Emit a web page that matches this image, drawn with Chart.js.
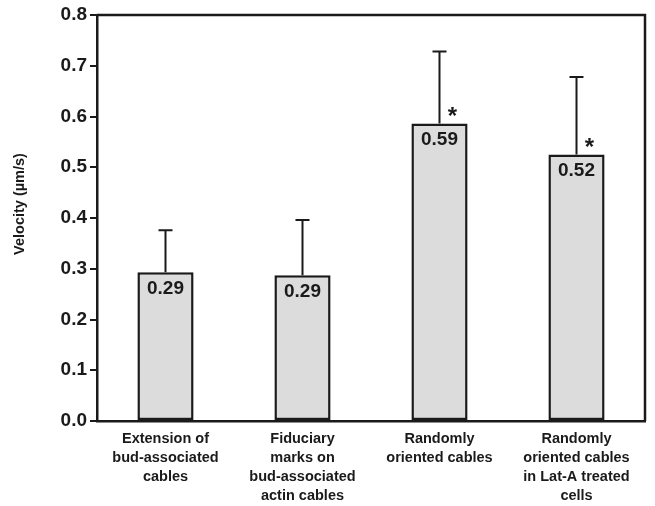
<!DOCTYPE html>
<html>
<head>
<meta charset="utf-8">
<script src="https://cdn.jsdelivr.net/npm/chart.js@4/dist/chart.umd.min.js"></script>
<style>
  html, body { margin: 0; padding: 0; background: #fff; }
  #wrap { width: 655px; height: 506px; }
</style>
</head>
<body>
<div id="wrap"><canvas id="chart" width="655" height="506"></canvas></div>
<script>
const categories = [
  ["Extension of", "bud-associated", "cables"],
  ["Fiduciary", "marks on", "bud-associated", "actin cables"],
  ["Randomly", "oriented cables"],
  ["Randomly", "oriented cables", "in Lat-A treated", "cells"],
];
const velocities = [0.293, 0.287, 0.586, 0.525];
const errors = [0.083, 0.109, 0.142, 0.153];
const valueLabels = ["0.29", "0.29", "0.59", "0.52"];
const significant = [false, false, true, true];
const yTicks = [0, 0.1, 0.2, 0.3, 0.4, 0.5, 0.6, 0.7, 0.8];
const yTitle = "Velocity (\u00b5m/s)";

const ink = "#1a1a1a";
const fontFamily = "'Liberation Sans', Arial, sans-serif";

const barExtras = {
  id: "barExtras",
  afterDatasetsDraw(chart) {
    const ctx = chart.ctx;
    const yScale = chart.scales.y;
    const meta = chart.getDatasetMeta(0);

    meta.data.forEach((bar, i) => {
      const top = yScale.getPixelForValue(velocities[i] + errors[i]);
      ctx.save();
      ctx.strokeStyle = ink;
      ctx.lineWidth = 2;
      ctx.beginPath();
      ctx.moveTo(bar.x, bar.y);
      ctx.lineTo(bar.x, top);
      ctx.moveTo(bar.x - 7, top);
      ctx.lineTo(bar.x + 7, top);
      ctx.stroke();

      ctx.fillStyle = ink;
      ctx.font = `bold 19px ${fontFamily}`;
      ctx.textAlign = "center";
      ctx.textBaseline = "middle";
      ctx.fillText(valueLabels[i], bar.x, bar.y + 16);

      if (significant[i]) {
        ctx.font = `bold 24px ${fontFamily}`;
        ctx.fillText("*", bar.x + 13, bar.y - 6);
      }
      ctx.restore();
    });
  },
  afterDraw(chart) {
    const ctx = chart.ctx;
    const area = chart.chartArea;
    ctx.save();
    ctx.strokeStyle = ink;
    ctx.lineWidth = 2.5;
    ctx.beginPath();
    ctx.moveTo(area.left, area.top);
    ctx.lineTo(area.right, area.top);
    ctx.lineTo(area.right, area.bottom);
    ctx.stroke();

    ctx.translate(20, 204);
    ctx.rotate(-Math.PI / 2);
    ctx.fillStyle = ink;
    ctx.font = `bold 14.5px ${fontFamily}`;
    ctx.textAlign = "center";
    ctx.textBaseline = "middle";
    ctx.fillText(yTitle, 0, 0);
    ctx.restore();
  },
};

new Chart(document.getElementById("chart"), {
  type: "bar",
  data: {
    labels: categories,
    datasets: [
      {
        data: velocities,
        backgroundColor: "#dcdcdc",
        borderColor: ink,
        borderWidth: 2.5,
        borderSkipped: false,
        categoryPercentage: 1,
        barPercentage: 0.41,
      },
    ],
  },
  options: {
    responsive: false,
    animation: false,
    devicePixelRatio: 1,
    layout: { padding: { left: 0, top: 15, right: 10, bottom: 0 } },
    plugins: {
      legend: { display: false },
      tooltip: { enabled: false },
    },
    scales: {
      x: {
        afterFit(scale) { scale.height = 85; },
        grid: { display: false, drawTicks: false },
        border: { display: true, color: ink, width: 2.5 },
        ticks: {
          color: ink,
          padding: 8,
          maxRotation: 0,
          autoSkip: false,
          font: { family: fontFamily, size: 14.5, weight: "bold", lineHeight: 1.33 },
        },
      },
      y: {
        min: 0,
        max: 0.8,
        afterFit(scale) { scale.width = 97; },
        afterBuildTicks(scale) { scale.ticks = yTicks.map((v) => ({ value: v })); },
        grid: { drawOnChartArea: false, drawTicks: true, tickLength: 7, color: ink, lineWidth: 2 },
        border: { display: true, color: ink, width: 2.5 },
        ticks: {
          color: ink,
          padding: 3,
          font: { family: fontFamily, size: 19, weight: "bold" },
          callback(value) { return Number(value).toFixed(1); },
        },
      },
    },
  },
  plugins: [barExtras],
});
</script>
</body>
</html>
